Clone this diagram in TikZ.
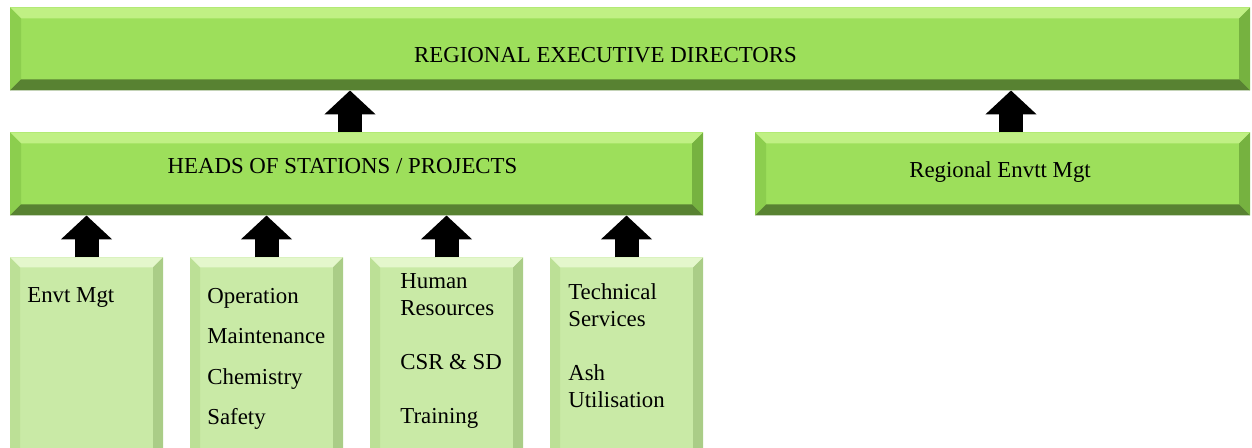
\documentclass[tikz,border=0pt]{standalone}
\usepackage{fontspec}
\setmainfont{Liberation Serif}
\usetikzlibrary{positioning, arrows.meta}

\definecolor{leafgreen}{RGB}{157,223,91}
\definecolor{leaflight}{RGB}{192,240,132}
\definecolor{leafleft}{RGB}{140,206,78}
\definecolor{leafright}{RGB}{118,178,64}
\definecolor{leafdark}{RGB}{88,130,50}
\definecolor{palegreen}{RGB}{201,234,166}
\definecolor{palelight}{RGB}{228,247,204}
\definecolor{paleleft}{RGB}{188,224,150}
\definecolor{paleright}{RGB}{170,205,135}
\definecolor{paledark}{RGB}{140,170,110}

\tikzset{
  block/.style={
    rectangle,
    fill=leafgreen,
    inner sep=0pt,
    outer sep=0pt,
    minimum height=1.66cm
  },
  unitbox/.style={
    rectangle,
    fill=palegreen,
    inner sep=0pt,
    outer sep=0pt,
    minimum width=3.06cm,
    minimum height=4.4cm
  },
  boxtext/.style={
    font=\fontsize{13}{15.4}\selectfont,
    inner sep=0pt,
    align=left
  },
  uparrow/.style={
    line width=0.48cm,
    line cap=butt,
    -{Triangle[width=1cm, length=0.48cm]}
  }
}

% bevelled edges: node, depth, top, left, right, bottom
\newcommand{\bevelbox}[6]{%
  \fill[#3] (#1.north west) -- (#1.north east) -- ([shift={(-#2,-#2)}]#1.north east) -- ([shift={(#2,-#2)}]#1.north west) -- cycle;
  \fill[#4] (#1.north west) -- ([shift={(#2,-#2)}]#1.north west) -- ([shift={(#2,#2)}]#1.south west) -- (#1.south west) -- cycle;
  \fill[#5] (#1.north east) -- ([shift={(-#2,-#2)}]#1.north east) -- ([shift={(-#2,#2)}]#1.south east) -- (#1.south east) -- cycle;
  \fill[#6] (#1.south west) -- ([shift={(#2,#2)}]#1.south west) -- ([shift={(-#2,#2)}]#1.south east) -- (#1.south east) -- cycle;
}

\begin{document}
\begin{tikzpicture}
  \useasboundingbox (0,0) rectangle (25.04,8.96);
  \clip (0,0) rectangle (25.04,8.96);

  \node[block, minimum width=24.8cm] (dirs) at (12.6,7.98) {};
  \node[block, minimum width=13.86cm, below=0.84cm of dirs.south west, anchor=north west] (heads) {};
  \node[block, minimum width=9.9cm, below=0.84cm of dirs.south east, anchor=north east] (envtt) {};

  \node[unitbox, below=0.84cm of heads.south west, anchor=north west] (envt) {};
  \node[unitbox, right=0.54cm of envt] (ops) {};
  \node[unitbox, right=0.54cm of ops] (hr) {};
  \node[unitbox, right=0.54cm of hr] (tech) {};

  % bevels
  \bevelbox{dirs}{0.22}{leaflight}{leafleft}{leafright}{leafdark}
  \bevelbox{heads}{0.22}{leaflight}{leafleft}{leafright}{leafdark}
  \bevelbox{envtt}{0.22}{leaflight}{leafleft}{leafright}{leafdark}
  \foreach \u in {envt, ops, hr, tech}{
    \bevelbox{\u}{0.2}{palelight}{paleleft}{paleright}{paledark}
  }

  % texts
  \node[boxtext, anchor=base] (dirs-t) at ([shift={(-0.49,-0.28)}]dirs.center) {REGIONAL EXECUTIVE DIRECTORS};
  \node[boxtext, anchor=base] (heads-t) at ([shift={(-0.28,0)}]heads.center) {HEADS OF STATIONS / PROJECTS};
  \node[boxtext, anchor=base] (envtt-t) at ([shift={(-0.05,-0.07)}]envtt.center) {Regional Envtt Mgt};

  \node[boxtext, anchor=base west] (envt-t) at ([shift={(0.34,-0.90)}]envt.north west) {Envt Mgt};
  \node[boxtext, anchor=base west] (ops-t) at ([shift={(0.34,-3.34)}]ops.north west)
    {Operation\\[7.6pt]Maintenance\\[7.6pt]Chemistry\\[7.6pt]Safety};
  \node[boxtext, anchor=base west] (hr-t) at ([shift={(0.6,-3.32)}]hr.north west)
    {Human\\Resources\\[15.4pt]CSR \& SD\\[15.4pt]Training};
  \node[boxtext, anchor=base west] (tech-t) at ([shift={(0.36,-3.0)}]tech.north west)
    {Technical\\Services\\[15.4pt]Ash\\Utilisation};

  % arrows
  \draw[uparrow] ([xshift=-0.13cm]heads.north) -- ([xshift=-0.13cm]heads.north |- dirs.south);
  \draw[uparrow] ([xshift=0.17cm]envtt.north) -- ([xshift=0.17cm]envtt.north |- dirs.south);
  \foreach \u in {envt, ops, hr, tech}
    \draw[uparrow] (\u.north) -- (\u.north |- heads.south);
\end{tikzpicture}
\end{document}
